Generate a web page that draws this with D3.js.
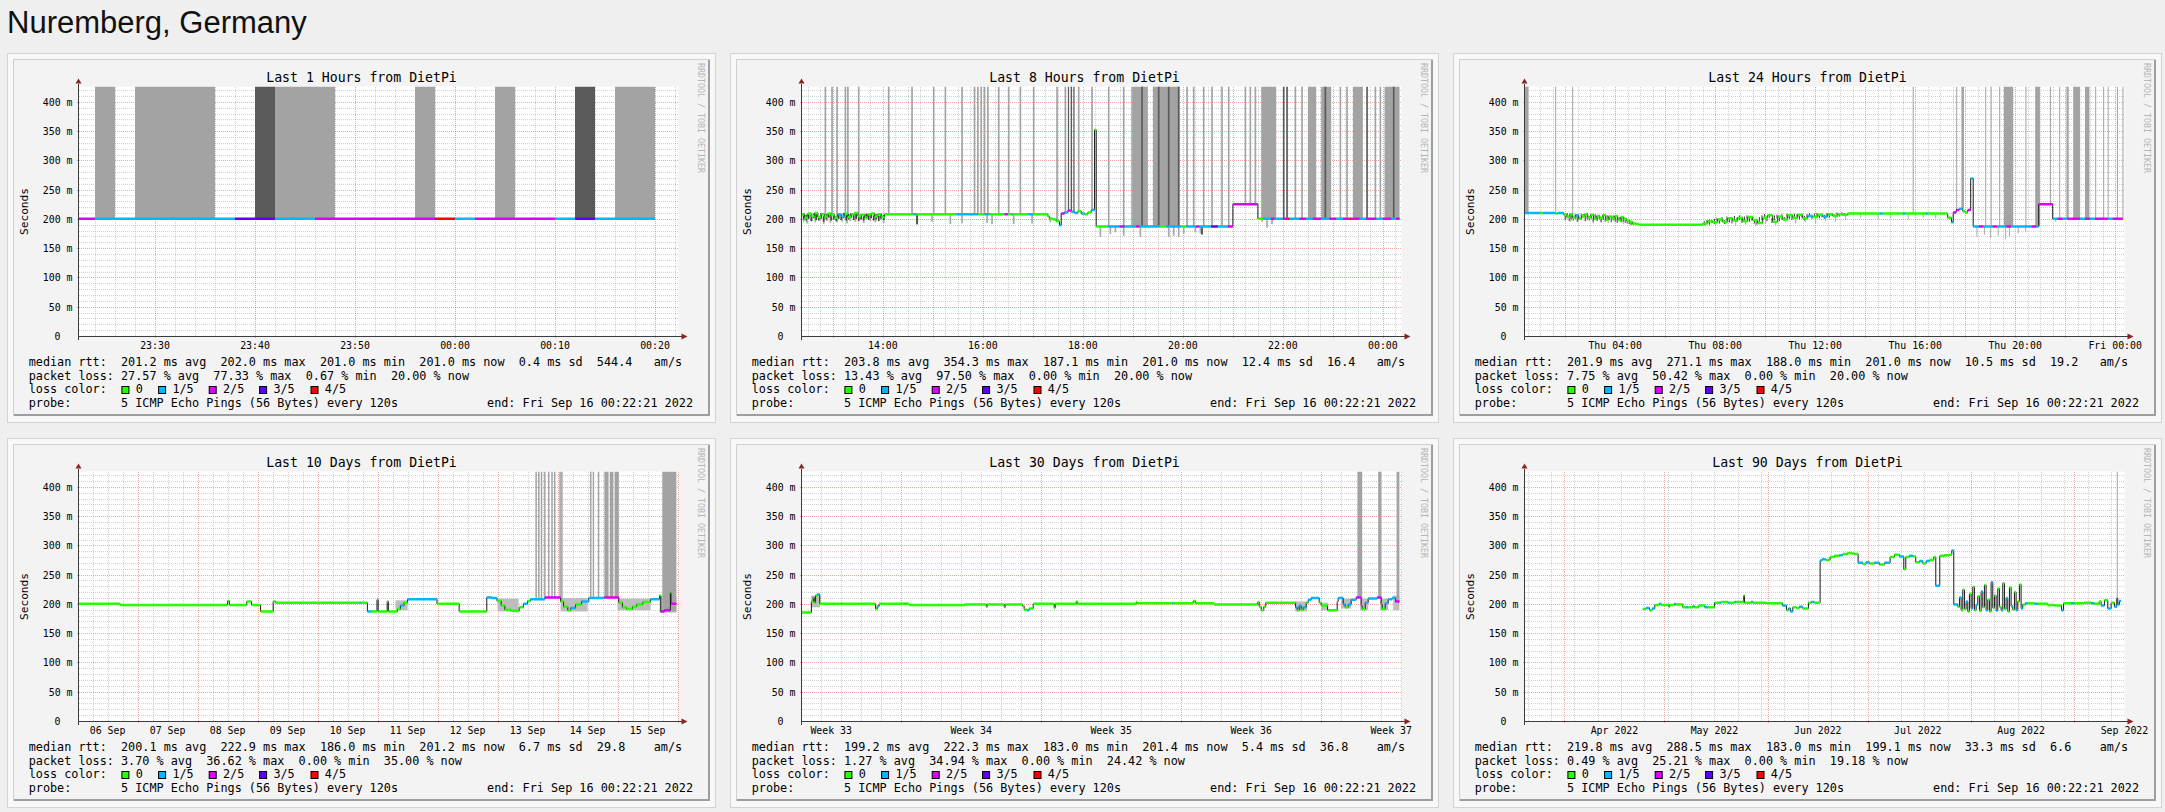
<!DOCTYPE html>
<html>
<head>
<meta charset="utf-8">
<script src="https://cdn.jsdelivr.net/npm/d3@7"></script>
<style>
  body { margin: 0; background: #efefef; }
  svg { display: block; }
  text { white-space: pre; }
</style>
</head>
<body>
<svg id="chart" width="2165" height="812"></svg>
<script>
// Panel titles and summary stats
const panelTitles = ['Last 1 Hours from DietPi', 'Last 8 Hours from DietPi', 'Last 24 Hours from DietPi',
                     'Last 10 Days from DietPi', 'Last 30 Days from DietPi', 'Last 90 Days from DietPi'];
// avg, max, min, now, sd, am/s
const rttStats = [
    [201.2, 202.0, 201.0, 201.0, 0.4, 544.4],
    [203.8, 354.3, 187.1, 201.0, 12.4, 16.4],
    [201.9, 271.1, 188.0, 201.0, 10.5, 19.2],
    [200.1, 222.9, 186.0, 201.2, 6.7, 29.8],
    [199.2, 222.3, 183.0, 201.4, 5.4, 36.8],
    [219.8, 288.5, 183.0, 199.1, 33.3, 6.6]
];
// avg, max, min, now (%)
const lossStats = [
    [27.57, 77.33, 0.67, 20.00],
    [13.43, 97.50, 0.00, 20.00],
    [7.75, 50.42, 0.00, 20.00],
    [3.70, 36.62, 0.00, 35.00],
    [1.27, 34.94, 0.00, 24.42],
    [0.49, 25.21, 0.00, 19.18]
];
const lossLabels = ['0', '1/5', '2/5', '3/5', '4/5'];
const lossColors = ['#26ff00', '#00b8ff', '#dd00ff', '#5e00ff', '#ff0000'];
const yTicks = [0, 50, 100, 150, 200, 250, 300, 350, 400];

// ---- Last 1 Hours: minutes after Sep 15 23:00 ----
// [time, median ms, lost pings]
const p1Median = [[22,201,2],[24,201,1],[38,201,3],[42,201,1],[46,201,2],[58,201,4],[60,201,1],[62,201,2],[70,201,1],[72,201,3],[74,201,1]];
const p1End = 80;
const p1Light = [[24,26],[28,36],[42,48],[56,58],[64,66],[76,80]];
const p1Dark = [[40,42],[72,74]];

// ---- Last 8 Hours: minutes after Sep 15 12:00 ----
const p2Median = [
    [22,209,0],[26,203,0],[30,210,0],[34,206,0],[38,211,0],[42,204,0],[46,209,0],[50,205,0],[54,210,0],[58,207,0],
    [62,203,0],[66,209,1],[70,206,1],[74,210,0],[78,204,0],[82,209,0],[86,211,0],[90,206,0],[94,208,0],[98,203,0],
    [102,209,0],[106,210,0],[110,205,0],[114,209,0],[118,204,0],[122,209,0],[156,209,1],[160,209,0],[208,209,1],
    [234,209,0],[242,209,1],[248,209,0],[266,209,2],[270,209,0],[274,209,1],[276,209,0],[294,209,1],[300,209,0],
    [318,205,0],[320,201,0],[324,200,0],[328,197,0],[332,190,1],[334,210,2],[338,212,1],[342,215,2],[346,213,1],
    [350,211,1],[354,214,0],[358,210,1],[362,209,0],[366,212,0],[370,216,1],[374,353,0],[376,188,0],[390,188,1],
    [404,188,2],[410,188,1],[424,188,2],[428,188,1],[452,188,0],[460,188,1],[478,188,0],[484,188,1],[496,188,2],
    [500,188,1],[514,188,3],[522,188,1],[534,188,2],[540,226,2],[570,201,0],[576,201,1],[586,201,2],[590,201,1],
    [600,201,2],[606,201,4],[608,201,1],[620,201,2],[628,201,1],[636,201,2],[646,201,1],[656,201,2],[664,201,1],
    [672,201,2],[680,201,4],[682,201,2],[692,201,1],[700,201,2],[712,201,1],[720,201,2],[730,201,1],[736,201,2]
];
const p2End = 740;
const p2Light = [
    [50,52],[58,60],[64,66],[74,76],[77,79],[90,92],[126,128],[154,156],[180,182],[194,196],[214,216],[229,231],
    [233,235],[237,239],[241,243],[245,247],[258,260],[270,272],[284,286],[300,302],[328,330],[338,340],[354,356],
    [370,372],[390,392],[408,410],[418,420],[420,438],[444,476],[484,486],[492,494],[504,506],[514,516],[526,528],
    [534,536],[554,556],[560,562],[566,568],[574,592],[614,616],[622,624],[630,640],[646,658],[668,670],[676,678],
    [684,696],[710,712],[716,718],[722,740]
];
const p2Dark = [[342,343.5],[345.5,347],[348.5,350],[430,432],[450,452],[462,464],[474,476],[600,602],[604,606],[650,652],[700,702],[732,734]];
// [time, lowest ping ms]
const p2Smoke = [
    [24,196],[28,193],[34,197],[38,195],[44,198],[48,192],[52,197],[56,194],[60,199],[64,195],[70,196],[76,193],
    [80,197],[86,196],[92,199],[96,194],[104,197],[110,195],[116,199],[120,194],[160,191],[178,196],[200,192],
    [214,193],[244,194],[250,192],[276,192],[298,193],[320,195],[380,170],[392,175],[398,178],[408,172],[428,170],
    [462,170],[468,172],[474,170],[480,175],[494,178],[500,176],[574,196],[580,186],[586,192]
];
// [time, low ms, high ms]
const p2DarkSmoke = [
    [24,200,210],[27,198,208],[30,201,211],[33,197,207],[36,202,210],[39,199,209],[42,198,206],[45,201,211],
    [48,196,205],[51,200,209],[54,203,211],[57,198,207],[60,200,210],[63,197,206],[66,201,209],[69,199,208],
    [72,202,211],[75,198,207],[78,200,209],[81,203,211],[84,199,208],[87,201,210],[90,197,206],[93,200,209],
    [96,198,205],[99,201,210],[102,199,208],[105,202,211],[108,198,207],[111,200,209],[114,197,206],[117,201,210],
    [120,199,208],[160,192,209],[502,174,188]
];

// ---- Last 24 Hours: hours after Sep 15 00:00 ----
const p3Median = [
    [0.3,211,1],[1.0,211,0],[1.1,211,1],[1.6,210,0],[1.7,211,1],[1.94,208,0],[2.06,205,0],[2.18,209,0],[2.3,203,0],
    [2.42,207,1],[2.54,201,0],[2.66,206,0],[2.78,209,0],[2.9,204,0],[3.02,208,0],[3.14,201,0],[3.26,206,0],
    [3.38,203,0],[3.5,207,0],[3.62,200,0],[3.74,205,0],[3.86,202,0],[3.98,206,0],[4.1,199,0],[4.22,204,0],
    [4.34,201,0],[4.46,198,0],[4.58,196,0],[4.7,193,0],[4.82,192,0],[4.94,191,0],[7.5,193,0],[7.7,197,0],
    [7.9,195,0],[8.1,200,0],[8.3,196,0],[8.5,202,0],[8.7,198,0],[8.9,203,0],[9.1,197,0],[9.3,204,0],[9.5,199,0],
    [9.7,194,0],[9.9,203,0],[10.1,207,0],[10.3,196,0],[10.5,205,0],[10.7,200,0],[10.9,207,0],[11.1,203,0],
    [11.3,208,0],[11.5,202,0],[11.7,206,1],[11.9,204,0],[12.1,208,0],[12.3,205,1],[12.5,209,0],[12.7,206,0],
    [12.9,209,0],[13.1,208,0],[13.3,210,0],[14.6,210,1],[14.7,210,0],[15.5,210,1],[15.6,210,0],[16.4,210,1],
    [16.5,210,0],[17.3,203,0],[17.45,195,1],[17.52,212,2],[17.64,216,2],[17.76,218,1],[17.9,214,0],[18.0,212,0],
    [18.1,216,2],[18.22,270,1],[18.32,188,1],[18.55,188,2],[18.72,188,1],[19.1,188,2],[19.28,188,1],[19.65,188,2],
    [19.83,188,1],[20.66,188,2],[20.85,188,1],[20.94,226,2],[21.5,201,1],[21.7,201,2],[21.9,201,1],[22.1,201,2],
    [22.6,201,1],[22.8,201,2],[23.0,201,1],[23.2,201,2],[23.7,201,1],[23.9,201,2]
];
const p3End = 24.3;
const p3Light = [
    [0.37,0.53],[1.6,1.64],[2.28,2.32],[15.9,15.94],[17.64,17.68],[17.85,17.95],[18.8,18.84],[19.02,19.06],
    [19.36,19.4],[19.55,19.92],[20.41,20.45],[20.8,20.99],[21.39,21.43],[21.76,21.8],[22.05,22.14],[22.32,22.6],
    [22.79,22.97],[23.2,23.24],[23.52,23.56],[23.7,23.74],[24.07,24.11],[24.29,24.33]
];
const p3Smoke = [
    [2.0,198],[2.2,196],[2.5,195],[2.8,197],[3.1,193],[3.4,196],[3.7,194],[4.0,195],[4.3,192],[4.6,190],
    [7.6,188],[8.0,190],[8.4,192],[8.8,189],[9.2,191],[9.6,188],[10.0,193],[10.4,190],[10.8,195],[11.2,193],
    [11.6,196],[12.0,194],[12.4,197],[12.8,196],[13.2,199],[13.8,203],[14.5,201],[15.0,202],[15.7,200],[16.3,203],
    [16.8,202],[18.45,170],[18.75,174],[19.0,168],[19.3,172],[19.6,166],[19.75,171],[20.1,176],[20.4,178],[21.6,196]
];
const p3DarkSmoke = [
    [1.98,199,209],[2.06,202,211],[2.14,197,206],[2.22,200,210],[2.3,198,205],[2.38,201,209],[2.46,196,207],
    [2.54,199,204],[2.62,200,210],[2.7,203,209],[2.78,197,206],[2.86,200,211],[2.94,198,204],[3.02,201,208],
    [3.1,196,203],[3.18,199,209],[3.26,197,206],[3.34,200,207],[3.42,195,204],[3.5,199,208],[3.58,196,202],
    [3.66,198,207],[3.74,199,206],[3.82,195,203],[3.9,198,207],[3.98,196,205],[4.06,194,202],[4.14,197,204],
    [4.22,195,203],[4.3,196,204],[4.38,194,200],[4.46,193,199],[4.54,192,198],[4.62,191,197],[4.7,190,195],
    [7.55,190,197],[7.65,192,199],[7.75,191,200],[7.85,194,198],[7.95,192,201],[8.05,195,203],[8.15,193,200],
    [8.25,196,204],[8.35,192,199],[8.45,197,205],[8.55,195,203],[8.65,193,201],[8.75,198,206],[8.85,196,203],
    [8.95,199,207],[9.05,194,202],[9.15,197,205],[9.25,200,207],[9.35,196,204],[9.45,198,206],[9.55,193,200],
    [9.65,191,198],[9.75,196,204],[9.85,199,207],[9.95,201,209],[10.05,197,206],[10.15,203,209],[10.25,194,202],
    [10.35,199,207],[10.45,202,208],[10.55,197,205],[10.65,200,209],[10.75,198,204],[10.85,203,210],[10.95,201,208],
    [11.05,199,206],[11.15,204,210],[11.25,202,209],[11.35,200,207],[11.45,203,210],[11.55,198,206],[11.65,202,209],
    [11.75,204,211],[11.85,201,207],[11.95,203,210],[12.05,205,211],[12.15,202,209],[12.25,204,210],[12.35,201,208],
    [12.45,205,211],[12.55,203,210],[12.65,206,211],[12.75,204,209],[12.85,206,212],[12.95,205,211],[13.05,207,212],
    [13.15,206,211]
];

// ---- Last 10 Days: days after Sep 6 00:00 ----
const p4Median = [
    [0,201,0],[0.71,199,0],[2.5,206,0],[2.53,199,0],[2.82,205,0],[2.9,199,0],[3.05,188,0],[3.26,205,0],[3.3,203,0],
    [4.7,203,1],[4.72,203,0],[4.83,188,1],[4.9,188,0],[4.99,208,1],[5.01,188,0],[5.16,205,0],[5.18,188,0],
    [5.33,192,0],[5.38,198,1],[5.44,203,0],[5.5,209,1],[5.99,201,0],[6.36,188,0],[6.82,212,1],[6.9,211,1],
    [6.99,206,0],[7.06,198,0],[7.12,191,0],[7.22,189,0],[7.36,195,0],[7.43,201,1],[7.5,206,0],[7.55,209,1],
    [7.79,212,2],[8.05,205,0],[8.1,196,0],[8.17,190,0],[8.22,194,1],[8.3,200,0],[8.4,205,1],[8.52,211,1],
    [8.78,212,2],[9.02,203,0],[9.08,195,0],[9.15,192,0],[9.25,196,0],[9.32,200,0],[9.42,204,0],[9.55,209,1],
    [9.7,215,0],[9.72,188,2],[9.78,190,2],[9.88,220,0],[9.89,201,2]
];
const p4End = 9.98;
const p4Light = [
    [7.63,7.655],[7.675,7.7],[7.72,7.745],[7.775,7.8],[7.84,7.865],[7.895,7.92],[7.94,7.965],[8.03,8.055],
    [8.06,8.085],[8.54,8.565],[8.585,8.61],[8.67,8.695],[8.78,8.85],[8.87,8.93],[8.95,9.02],[9.745,9.98]
];
// [start, end, low ms, high ms]
const p4Bands = [[5.3,5.5,190,207],[7.0,7.35,188,210],[8.05,8.5,188,211],[9.0,9.55,190,210],[9.7,9.98,186,214]];

// ---- Last 30 Days: days after Aug 17 00:00 ----
const p5Median = [
    [0,186,0],[0.51,205,0],[0.6,212,0],[0.65,203,0],[0.72,215,0],[0.8,217,1],[0.93,201,0],[1.6,201,1],[1.65,201,0],
    [2.0,201,1],[2.05,201,0],[3.72,192,0],[3.8,197,1],[3.9,201,0],[5.2,201,1],[5.25,201,0],[5.39,199,0],[8.18,200,0],
    [9.25,196,0],[9.3,200,0],[10.15,195,0],[10.2,200,0],[11.07,197,0],[11.15,191,0],[11.3,190,1],[11.4,193,0],
    [11.6,201,0],[12.65,194,0],[12.7,201,0],[13.75,205,0],[13.8,201,0],[16.75,204,0],[16.8,202,0],[18.55,202,1],
    [18.6,202,0],[19.6,206,0],[19.7,202,0],[20.64,200,0],[22.83,204,0],[22.9,196,0],[23.0,190,0],[23.13,196,0],
    [23.23,203,0],[24.72,195,1],[24.8,190,0],[24.9,198,1],[25.0,191,0],[25.1,195,1],[25.25,203,0],[25.35,208,1],
    [25.5,211,1],[25.9,203,0],[26.0,198,0],[26.32,190,0],[26.8,205,0],[26.85,211,1],[27.1,200,1],[27.2,195,0],
    [27.35,200,1],[27.5,208,1],[27.75,212,2],[28.0,198,1],[28.05,192,0],[28.2,203,1],[28.35,210,1],[28.8,212,2],
    [29.0,200,1],[29.05,192,0],[29.2,202,1],[29.35,209,1],[29.55,211,1],[29.72,205,2]
];
const p5End = 29.91;
const p5Light = [[27.81,28.05],[28.85,29.01],[29.77,29.91]];
const p5Bands = [[0.5,0.95,195,215],[24.7,25.3,188,205],[26.0,26.35,190,203],[27.0,27.5,193,210],[27.95,28.35,190,210],[28.95,29.35,190,210],[29.6,29.91,190,215]];

// ---- Last 90 Days: days after Mar 20 00:00 ----
const p6Median = [
    [35.5,192,0],[36.5,194,1],[37.5,190,0],[38.3,193,1],[39.1,199,0],[40.5,201,1],[41,199,0],[43.3,196,0],[43.6,199,0],
    [45,201,1],[45.3,200,0],[47.5,195,0],[48.5,195,1],[49,195,0],[50.5,197,1],[51,195,0],[52.3,198,0],[54.1,195,1],
    [55,195,0],[57.05,203,0],[58.5,203,1],[59,204,0],[61,203,1],[61.5,203,0],[63,204,1],[63.5,204,0],[65.8,215,0],
    [66.0,203,0],[68,204,1],[68.5,203,0],[72.6,202,0],[77.4,198,1],[78.6,190,0],[79.2,193,1],[79.8,188,1],[80.5,195,0],
    [81.6,194,0],[82.5,196,1],[83.5,193,0],[85.2,203,0],[86,204,1],[87,203,0],[88.7,275,1],[89.3,277,1],[90.3,276,0],
    [91.7,281,0],[93,283,0],[94.5,284,1],[95.5,286,0],[97,288,0],[98,287,0],[99,286,0],[100.1,271,1],[101.5,269,0],
    [102.5,272,1],[103.5,270,0],[105,271,1],[106.5,268,0],[108,271,1],[109.7,281,0],[111,285,0],[112.5,282,1],
    [113.8,260,0],[114.4,281,0],[115.5,283,1],[116.5,282,0],[117.4,272,0],[118.5,274,1],[119.5,270,0],[120.5,274,1],
    [121.5,276,0],[122.8,281,0],[123.4,232,1],[124.6,283,0],[126,284,0],[127.5,285,0],[128.2,292,1],[128.8,200,1],
    [130,196,0],[130.5,212,1],[131,190,0],[131.5,225,0],[132,192,0],[132.5,205,1],[133,188,0],[133.5,218,0],
    [134,193,1],[134.5,230,0],[135,190,0],[135.5,199,1],[136,214,0],[136.5,189,0],[137,222,1],[137.5,195,0],
    [138,233,0],[138.5,190,1],[139,208,0],[139.5,188,0],[140,238,1],[140.5,194,0],[141,215,0],[141.5,189,1],
    [142,227,0],[142.5,196,0],[143,190,1],[143.5,236,0],[144,192,0],[144.5,211,1],[145,188,0],[145.5,229,0],
    [146,197,1],[146.5,191,0],[147,221,0],[147.5,190,1],[148,205,0],[148.5,234,0],[149,193,1],[149.5,200,0],
    [150.3,202,1],[151,202,0],[153,201,1],[154,201,0],[157,199,0],[159,198,0],[161.1,190,1],
    [161.7,202,0],[164,202,1],[165,202,0],[168,203,0],[170,202,1],[171,201,0],[172.4,205,0],[173,198,1],[174,207,0],
    [175,193,1],[176,203,0],[177,196,1],[177.7,210,2],[178,200,1],[178.5,206,1]
];
const p6End = 179.0;
const p6Light = [[177.7,177.95]];

const MIN = 60e3, HOUR = 3600e3, DAY = 86400e3;
const END = new Date(2022, 8, 16, 0, 22, 21);
const W = 600, Y_TOP = 27.5, Y_BOTTOM = 277.5, Y_MAX = 427;
const FONT = "'DejaVu Sans Mono', monospace";
const boxX = [108.4, 145.1, 195.7, 246.1, 297.5];

const panels = [
    { base: new Date(2022, 8, 15, 23, 0), unit: MIN, span: 60 * MIN, median: p1Median, end: p1End,
      light: p1Light, dark: p1Dark, smoke: [], darkSmoke: [], smokeW: 2, bands: [],
      minor: d3.timeMinute.every(2), major: d3.timeMinute.every(10),
      labels: (s, e) => d3.timeMinute.every(10).range(s, e), fmt: '%H:%M' },
    { base: new Date(2022, 8, 15, 12, 0), unit: MIN, span: 12 * HOUR, median: p2Median, end: p2End,
      light: p2Light, dark: p2Dark, smoke: p2Smoke, darkSmoke: p2DarkSmoke, smokeW: 2, bands: [],
      minor: d3.timeMinute.every(15), major: d3.timeHour,
      labels: (s, e) => d3.timeHour.every(2).range(s, e), fmt: '%H:%M' },
    { base: new Date(2022, 8, 15, 0, 0), unit: HOUR, span: 24 * HOUR, median: p3Median, end: p3End,
      light: p3Light, dark: [], smoke: p3Smoke, darkSmoke: p3DarkSmoke, smokeW: 0.04, bands: [],
      minor: d3.timeMinute.every(30), major: d3.timeHour.every(2),
      labels: (s, e) => d3.timeHour.every(4).range(s, e), fmt: '%a %H:%M' },
    { base: new Date(2022, 8, 6, 0, 0), unit: DAY, span: 10 * DAY, median: p4Median, end: p4End,
      light: p4Light, dark: [], smoke: [], darkSmoke: [], smokeW: 0.02, bands: p4Bands,
      minor: d3.timeHour.every(6), major: d3.timeDay,
      labels: (s, e) => d3.timeDay.range(d3.timeDay.offset(s, -1), e).map(d => d3.timeHour.offset(d, 12)), fmt: '%d %b' },
    { base: new Date(2022, 7, 17, 0, 0), unit: DAY, span: 30 * DAY, median: p5Median, end: p5End,
      light: p5Light, dark: [], smoke: [], darkSmoke: [], smokeW: 0.05, bands: p5Bands,
      minor: d3.timeDay, major: d3.timeMonday,
      labels: (s, e) => d3.timeMonday.range(d3.timeDay.offset(s, -7), e).map(d => d3.timeHour.offset(d, 84)), fmt: 'Week %V' },
    { base: new Date(2022, 2, 20, 0, 0), unit: DAY, span: 180 * DAY, median: p6Median, end: p6End,
      light: p6Light, dark: [], smoke: [], darkSmoke: [], smokeW: 0.3, bands: [],
      minor: d3.timeMonday, major: d3.timeMonth,
      labels: (s, e) => d3.timeMonth.range(d3.timeMonth.offset(s, -1), e).map(d => d3.timeDay.offset(d, 15)), fmt: '%b %Y' }
];

const svg = d3.select('#chart');
const defs = svg.append('defs');

svg.append('text')
    .attr('x', 7).attr('y', 33)
    .attr('font-family', "'Liberation Sans', Arial, sans-serif")
    .attr('font-size', 31)
    .attr('fill', '#111')
    .text('Nuremberg, Germany');

const cols = [7, 730, 1453], rows = [53, 438];

function pad(s, n) { while (s.length < n) s += ' '; return s; }

function drawPanel(p, i, cx, cy) {
    const card = svg.append('g').attr('transform', `translate(${cx},${cy})`);
    card.append('rect').attr('x', 0.5).attr('y', 0.5).attr('width', 708).attr('height', 369)
        .attr('fill', '#f8f8f8').attr('stroke', '#d3d3d3');

    const img = card.append('g').attr('transform', 'translate(6,6)');
    img.append('rect').attr('width', 697).attr('height', 357).attr('fill', '#f3f3f3');
    img.append('path').attr('d', 'M0.5,357V0.5H697').attr('fill', 'none').attr('stroke', '#cfcfcf');
    img.append('path').attr('d', 'M1,356H696V1').attr('fill', 'none').attr('stroke', '#9e9e9e').attr('stroke-width', 2);

    img.append('text').attr('x', 348.5).attr('y', 23.4).attr('text-anchor', 'middle')
        .attr('font-family', FONT).attr('font-size', 13.2).text(panelTitles[i]);

    img.append('text')
        .attr('transform', `translate(14.5,${(Y_TOP + Y_BOTTOM) / 2}) rotate(-90)`)
        .attr('text-anchor', 'middle').attr('font-family', FONT).attr('font-size', 11.2)
        .text('Seconds');

    img.append('text')
        .attr('transform', 'translate(684.5,4) rotate(90)')
        .attr('font-family', FONT).attr('font-size', 8.3).attr('fill', '#b5b5b5')
        .text('RRDTOOL / TOBI OETIKER');

    const start = new Date(+END - p.span);
    const x = d3.scaleTime().domain([start, END]).range([0, W]);
    const y = d3.scaleLinear().domain([0, Y_MAX]).range([Y_BOTTOM, Y_TOP]);
    const t = v => new Date(+p.base + v * p.unit);
    const px = d => Math.floor(x(d)) + 0.5;
    const py = v => Math.floor(y(v)) + 0.5;

    const plot = img.append('g').attr('transform', 'translate(65.5,0)');
    plot.append('rect').attr('x', 0).attr('y', Y_TOP).attr('width', W).attr('height', Y_BOTTOM - Y_TOP).attr('fill', '#fff');

    // grid
    const grid = plot.append('g').attr('stroke-dasharray', '1,1').attr('shape-rendering', 'crispEdges');
    const majors = p.major.range(start, END);
    const majorSet = new Set(majors.map(Number));
    const minors = p.minor.range(start, END).filter(d => !majorSet.has(+d));
    const hMinor = d3.range(10, Y_MAX, 10).filter(v => v % 50 !== 0);
    grid.selectAll('.hmin').data(hMinor).enter().append('line')
        .attr('x1', 0).attr('x2', W).attr('y1', d => py(d)).attr('y2', d => py(d))
        .attr('stroke', 'rgba(143,143,143,0.4)');
    grid.selectAll('.vmin').data(minors).enter().append('line')
        .attr('x1', d => px(d)).attr('x2', d => px(d)).attr('y1', Y_TOP).attr('y2', Y_BOTTOM)
        .attr('stroke', 'rgba(143,143,143,0.4)');
    grid.selectAll('.hmaj').data(yTicks.filter(v => v > 0)).enter().append('line')
        .attr('x1', -2).attr('x2', W).attr('y1', d => py(d)).attr('y2', d => py(d))
        .attr('stroke', 'rgba(222,80,80,0.5)');
    grid.selectAll('.vmaj').data(majors).enter().append('line')
        .attr('x1', d => px(d)).attr('x2', d => px(d)).attr('y1', Y_TOP).attr('y2', Y_BOTTOM + 2)
        .attr('stroke', 'rgba(222,80,80,0.5)');

    // data layer clipped to the canvas
    defs.append('clipPath').attr('id', 'clip' + i)
        .append('rect').attr('x', 0).attr('y', Y_TOP).attr('width', W).attr('height', Y_BOTTOM - Y_TOP);
    const data = plot.append('g').attr('clip-path', `url(#clip${i})`);

    const medianAt = v => {
        let val = p.median[0][1];
        for (const m of p.median) { if (m[0] <= v + 1e-9) val = m[1]; else break; }
        return val;
    };

    data.selectAll('.band').data(p.bands).enter().append('rect')
        .attr('x', d => x(t(d[0]))).attr('width', d => Math.max(1, x(t(d[1])) - x(t(d[0]))))
        .attr('y', d => y(d[3])).attr('height', d => y(d[2]) - y(d[3]))
        .attr('fill', '#bdbdbd');

    data.selectAll('.smoke').data(p.smoke).enter().append('rect')
        .attr('x', d => x(t(d[0]))).attr('width', d => Math.max(1, x(t(d[0] + p.smokeW)) - x(t(d[0]))))
        .attr('y', d => y(medianAt(d[0]))).attr('height', d => Math.max(0, y(d[1]) - y(medianAt(d[0]))))
        .attr('fill', '#a8a8a8');
    data.selectAll('.dsmoke').data(p.darkSmoke).enter().append('rect')
        .attr('x', d => x(t(d[0]))).attr('width', d => Math.max(1, x(t(d[0] + p.smokeW)) - x(t(d[0]))))
        .attr('y', d => y(d[2])).attr('height', d => Math.max(1, y(d[1]) - y(d[2])))
        .attr('fill', '#444');

    data.selectAll('.light').data(p.light).enter().append('rect')
        .attr('x', d => x(t(d[0]))).attr('width', d => Math.max(1, x(t(d[1])) - x(t(d[0]))))
        .attr('y', Y_TOP).attr('height', d => y(medianAt(d[0])) - Y_TOP)
        .attr('fill', '#a3a3a3');
    data.selectAll('.dark').data(p.dark).enter().append('rect')
        .attr('x', d => x(t(d[0]))).attr('width', d => Math.max(1, x(t(d[1])) - x(t(d[0]))))
        .attr('y', Y_TOP).attr('height', d => y(medianAt(d[0])) - Y_TOP)
        .attr('fill', '#5a5a5a');

    // median: thin dark step line, loss colored steps on top
    const pts = p.median.concat([[p.end, p.median[p.median.length - 1][1]]]);
    data.append('path')
        .attr('d', d3.line().x(d => x(t(d[0]))).y(d => y(d[1])).curve(d3.curveStepAfter)(pts))
        .attr('fill', 'none').attr('stroke', '#1a1a1a').attr('stroke-width', 1);
    const segs = p.median.map((d, k) => [d[0], k + 1 < p.median.length ? p.median[k + 1][0] : p.end, d[1], d[2]]);
    data.selectAll('.seg').data(segs).enter().append('line')
        .attr('x1', d => x(t(d[0]))).attr('x2', d => x(t(d[1])))
        .attr('y1', d => y(d[2])).attr('y2', d => y(d[2]))
        .attr('stroke', d => lossColors[d[3]]).attr('stroke-width', 2.5);

    // axes
    const axis = plot.append('g').attr('shape-rendering', 'crispEdges');
    axis.append('line').attr('x1', 0).attr('x2', W + 4).attr('y1', Y_BOTTOM).attr('y2', Y_BOTTOM).attr('stroke', '#3c3c3c');
    axis.append('line').attr('x1', 0).attr('x2', 0).attr('y1', Y_BOTTOM + 3).attr('y2', Y_TOP - 3).attr('stroke', '#3c3c3c');
    plot.append('path').attr('d', `M${W + 3},${Y_BOTTOM - 3}L${W + 9},${Y_BOTTOM}L${W + 3},${Y_BOTTOM + 3}Z`).attr('fill', '#8a2323');
    plot.append('path').attr('d', `M-3,${Y_TOP - 3}L0,${Y_TOP - 8}L3,${Y_TOP - 3}Z`).attr('fill', '#8a2323');

    plot.selectAll('.ylab').data(yTicks).enter().append('text')
        .attr('x', d => d === 0 ? -18 : -6).attr('y', d => y(d) + 3.5)
        .attr('text-anchor', 'end').attr('font-family', FONT).attr('font-size', 9.9)
        .text(d => d === 0 ? '0' : d + ' m');

    const fmt = d3.timeFormat(p.fmt);
    const labs = p.labels(start, END).filter(d => d >= start && d <= END);
    plot.selectAll('.xlab').data(labs).enter().append('text')
        .attr('x', d => x(d)).attr('y', 289.7)
        .attr('text-anchor', 'middle').attr('font-family', FONT).attr('font-size', 9.9)
        .text(d => fmt(d));

    // legend
    const r = rttStats[i], l = lossStats[i];
    const rttLine = pad(`median rtt:  ${r[0].toFixed(1)} ms avg  ${r[1].toFixed(1)} ms max  ${r[2].toFixed(1)} ms min  ${r[3].toFixed(1)} ms now  ${r[4].toFixed(1)} ms sd  ${r[5].toFixed(1)}`, 88) + 'am/s';
    const lossLine = `packet loss: ${l[0].toFixed(2)} % avg  ${l[1].toFixed(2)} % max  ${l[2].toFixed(2)} % min  ${l[3].toFixed(2)} % now`;
    const lg = img.append('g').attr('font-family', FONT).attr('font-size', 11.8).attr('fill', '#000');
    lg.append('text').attr('x', 15.7).attr('y', 306.7).text(rttLine);
    lg.append('text').attr('x', 15.7).attr('y', 320.5).text(lossLine);
    lg.append('text').attr('x', 15.7).attr('y', 334.3).text('loss color:');
    lossLabels.forEach((lab, k) => {
        lg.append('rect').attr('x', boxX[k] + 0.5).attr('y', 327.5).attr('width', 7).attr('height', 7)
            .attr('fill', lossColors[k]).attr('stroke', '#000').attr('stroke-width', 1);
        lg.append('text').attr('x', boxX[k] + 14.3).attr('y', 334.3).text(lab);
    });
    lg.append('text').attr('x', 15.7).attr('y', 348.3).text('probe:       5 ICMP Echo Pings (56 Bytes) every 120s');
    lg.append('text').attr('x', 680).attr('y', 348.3).attr('text-anchor', 'end').text('end: Fri Sep 16 00:22:21 2022');
}

panels.forEach((p, i) => drawPanel(p, i, cols[i % 3], rows[Math.floor(i / 3)]));
</script>
</body>
</html>
